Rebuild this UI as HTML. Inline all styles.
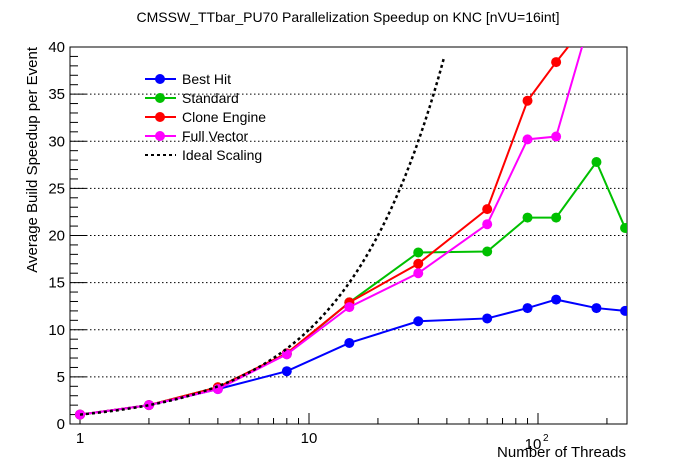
<!DOCTYPE html>
<html><head><style>body{margin:0;background:#fff}svg{display:block}text{font-family:"Liberation Sans",sans-serif}</style></head>
<body>
<svg id="s" width="696" height="472" xmlns="http://www.w3.org/2000/svg"></svg>
<script>
const s=document.getElementById('s');
const L=70,R=627,T=47,B=424;
const X=v=>80+229*Math.log10(v), Y=v=>424-v*9.425;
let h='<rect width="696" height="472" fill="#fff"/>';
h+='<defs><clipPath id="c"><rect x="'+L+'" y="'+T+'" width="'+(R-L)+'" height="'+(B-T)+'"/></clipPath></defs>';
for(let v=5;v<40;v+=5)h+=`<line x1="${L}" x2="${R}" y1="${Y(v)}" y2="${Y(v)}" stroke="#000" stroke-dasharray="1.5,2.5" stroke-width="1"/>`;
h+=`<rect x="${L}" y="${T}" width="${R-L}" height="${B-T}" fill="none" stroke="#000"/>`;
for(let v=0;v<=40;v++){let w=v%5?8:16;h+=`<line x1="${L}" x2="${L+w}" y1="${Y(v)}" y2="${Y(v)}" stroke="#000"/>`;if(v%5==0)h+=`<text x="${L-5}" y="${Y(v)+5}" font-size="15" text-anchor="end">${v}</text>`;}
for(let d of [1,10,100])for(let k=1;k<10;k++){let v=d*k,x=X(v);if(x<L||x>R)continue;let w=k==1?11:6;h+=`<line x1="${x}" x2="${x}" y1="${B}" y2="${B-w}" stroke="#000"/>`;}
h+=`<text x="${X(1)}" y="443" font-size="15" text-anchor="middle">1</text><text x="${X(10)}" y="443" font-size="15" text-anchor="middle">10</text><text x="${X(100)-5}" y="449" font-size="15" text-anchor="middle">10</text><text x="${X(100)+5}" y="441" font-size="10">2</text>`;
h+=`<text x="626" y="457" font-size="15" text-anchor="end">Number of Threads</text>`;
h+=`<text transform="translate(37,47) rotate(-90)" font-size="15" text-anchor="end">Average Build Speedup per Event</text>`;
h+=`<text x="348" y="22" font-size="14" text-anchor="middle">CMSSW_TTbar_PU70 Parallelization Speedup on KNC [nVU=16int]</text>`;
const th=[1,2,4,8,15,30,60,90,120,180,240];
const S=[["#0000ff",[1,2,3.7,5.6,8.6,10.9,11.2,12.3,13.2,12.3,12.0]],["#00c000",[1,2,3.9,7.4,12.9,18.2,18.3,21.9,21.9,27.8,20.8]],["#ff0000",[1,2,3.9,7.5,12.9,17.0,22.8,34.3,38.4,43.8,null]],["#ff00ff",[1,2,3.7,7.4,12.4,16.0,21.2,30.2,30.5,45.3,null]]];
let g='<g clip-path="url(#c)">';
let id=[];for(let v=1;v<=40;v*=1.05)id.push(X(v)+','+Y(v));
for(const [c,d] of S){let p=[];d.forEach((v,i)=>{if(v!=null)p.push(X(th[i])+','+Y(v))});g+=`<polyline points="${p.join(' ')}" fill="none" stroke="${c}" stroke-width="2"/>`;d.forEach((v,i)=>{if(v!=null&&v<40)g+=`<circle cx="${X(th[i])}" cy="${Y(v)}" r="5" fill="${c}"/>`});}
g+=`<polyline points="${id.join(' ')}" fill="none" stroke="#000" stroke-width="2.5" stroke-dasharray="3,3"/>`;
g+='</g>';h+=g;
const lg=[["#0000ff","Best Hit"],["#00c000","Standard"],["#ff0000","Clone Engine"],["#ff00ff","Full Vector"],["#000","Ideal Scaling"]];
lg.forEach(([c,t],i)=>{let y=79+i*19;if(i<4)h+=`<line x1="145" x2="176" y1="${y}" y2="${y}" stroke="${c}" stroke-width="2"/><circle cx="160" cy="${y}" r="5" fill="${c}"/>`;else h+=`<line x1="145" x2="176" y1="${y}" y2="${y}" stroke="#000" stroke-width="2" stroke-dasharray="3,3"/>`;h+=`<text x="182" y="${y+5}" font-size="14">${t}</text>`;});
s.innerHTML=h;
</script>
</body></html>
